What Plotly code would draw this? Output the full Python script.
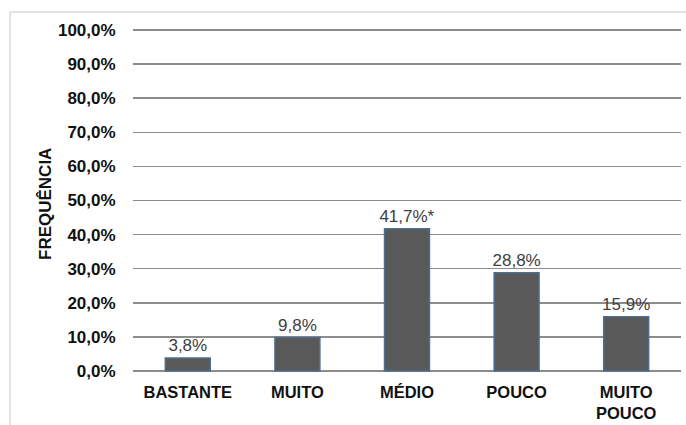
import plotly.graph_objects as go

categories = ["BASTANTE", "MUITO", "MÉDIO", "POUCO", "MUITO<br>POUCO"]
values = [3.8, 9.8, 41.7, 28.8, 15.9]
value_labels = ["3,8%", "9,8%", "41,7%*", "28,8%", "15,9%"]
tick_vals = [0, 10, 20, 30, 40, 50, 60, 70, 80, 90, 100]
tick_text = ["0,0%", "10,0%", "20,0%", "30,0%", "40,0%", "50,0%",
             "60,0%", "70,0%", "80,0%", "90,0%", "100,0%"]

W, H = 686, 425
L, R, T, B = 133, 5, 29, 53
pw = W - L - R
ph = H - T - B

def px_x(px):
    return (px - L) / pw

def px_y(py):
    return (H - B - py) / ph

FONT = "Liberation Sans, Arial, sans-serif"

fig = go.Figure()
fig.add_trace(go.Bar(
    x=categories, y=values, text=value_labels,
    textposition="outside", cliponaxis=False, constraintext="none",
    textfont=dict(family=FONT, size=17, color="#404040"),
    marker=dict(color="#595959", line=dict(color="#4f6d8f", width=1.5)),
    hoverinfo="skip",
))

fig.update_layout(
    width=W, height=H,
    margin=dict(l=L, r=R, t=T, b=B, autoexpand=False),
    paper_bgcolor="white", plot_bgcolor="white",
    bargap=0.59,
    showlegend=False,
    font=dict(family=FONT, color="#000000"),
    xaxis=dict(
        tickfont=dict(family=FONT, size=16.5, color="#111111", weight="bold"),
        ticks="outside", ticklen=5, tickcolor="rgba(0,0,0,0)",
        showgrid=False, showline=False, zeroline=False, automargin=False,
    ),
    yaxis=dict(
        range=[-0.3, 100.3],
        tickvals=tick_vals, ticktext=tick_text,
        tickfont=dict(family=FONT, size=17, color="#111111", weight="bold"),
        ticks="outside", ticklen=13, tickcolor="rgba(0,0,0,0)",
        showgrid=True, gridcolor="#8c8c8c", gridwidth=1.6,
        zeroline=True, zerolinecolor="#8c8c8c", zerolinewidth=1.6,
        showline=False, automargin=False,
    ),
    annotations=[dict(
        text="<b>FREQUÊNCIA</b>", textangle=-90,
        x=px_x(45), y=px_y(204), xref="paper", yref="paper",
        showarrow=False, xanchor="center", yanchor="middle",
        font=dict(family=FONT, size=17, color="#111111"),
    )],
    shapes=[
        dict(type="line", xref="paper", yref="paper",
             x0=px_x(10), x1=px_x(690), y0=px_y(12), y1=px_y(12),
             line=dict(color="#d9d9d9", width=1.5)),
        dict(type="line", xref="paper", yref="paper",
             x0=px_x(10), x1=px_x(10), y0=px_y(12), y1=px_y(430),
             line=dict(color="#d9d9d9", width=1.5)),
    ],
)

fig.write_html("out.html",
               config={"displayModeBar": False, "staticPlot": True},
               post_script="document.body.style.margin='0';document.body.style.overflow='hidden';")
